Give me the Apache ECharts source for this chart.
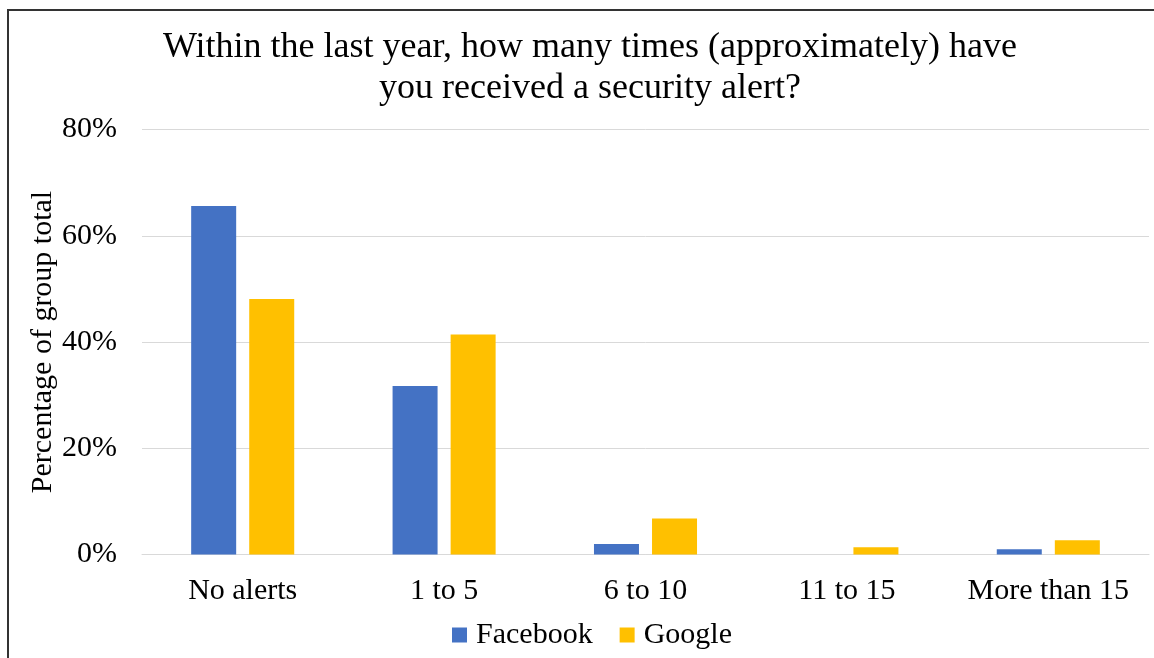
<!DOCTYPE html>
<html>
<head>
<meta charset="utf-8">
<script src="https://cdn.jsdelivr.net/npm/echarts@6/dist/echarts.min.js"></script>
<style>
html,body{margin:0;padding:0;background:#fff;}
#chart{width:1154px;height:658px;}
</style>
</head>
<body>
<div id="chart"></div>
<script>
var categories = ['No alerts', '1 to 5', '6 to 10', '11 to 15', 'More than 15'];
var facebook = [65.6, 31.7, 2.0, 0, 1.0];
var google = [48.1, 41.4, 6.8, 1.35, 2.7];
var seriesNames = ['Facebook', 'Google'];
var titleLines = ['Within the last year, how many times (approximately) have', 'you received a security alert?'];
var yAxisName = 'Percentage of group total';

var FONT = '"Liberation Serif", "Times New Roman", serif';
var chart = echarts.init(document.getElementById('chart'), null, {renderer: 'canvas'});
chart.setOption({
  backgroundColor: '#fff',
  animation: false,
  title: {
    text: titleLines.join('\n'),
    left: 585,
    top: 22,
    textAlign: 'center',
    textStyle: {fontFamily: FONT, fontSize: 36, fontWeight: 'normal', color: '#000', lineHeight: 41}
  },
  legend: {
    data: seriesNames,
    left: 447,
    top: 615,
    itemWidth: 15,
    itemHeight: 15,
    itemGap: 27,
    icon: 'rect',
    textStyle: {fontFamily: FONT, fontSize: 30, color: '#000', padding: [0, 0, 0, 4]}
  },
  grid: {left: 142, right: 5, top: 129.5, bottom: 103.5, containLabel: false},
  xAxis: {
    type: 'category',
    data: categories,
    axisLine: {show: true, lineStyle: {color: '#d9d9d9', width: 1}},
    axisTick: {show: false},
    axisLabel: {fontFamily: FONT, fontSize: 30, color: '#000', margin: 22, interval: 0}
  },
  yAxis: {
    type: 'value',
    min: 0,
    max: 80,
    interval: 20,
    name: yAxisName,
    nameLocation: 'middle',
    nameGap: 84,
    nameMoveOverlap: false,
    nameTextStyle: {fontFamily: FONT, fontSize: 30, color: '#000'},
    axisLine: {show: false},
    axisTick: {show: false},
    axisLabel: {fontFamily: FONT, fontSize: 30, color: '#000', margin: 25, formatter: '{value}%'},
    splitLine: {lineStyle: {color: '#d9d9d9', width: 1}}
  },
  series: [
    {name: seriesNames[0], type: 'bar', data: facebook, barWidth: 45, barGap: '29%', itemStyle: {color: '#4472C4'}},
    {name: seriesNames[1], type: 'bar', data: google, barWidth: 45, barGap: '29%', itemStyle: {color: '#FFC000'}}
  ],
  graphic: [
    {type: 'polyline', shape: {points: [[8, 658], [8, 10], [1154, 10]]}, style: {stroke: '#333', lineWidth: 2, fill: null}, silent: true}
  ]
});
</script>
</body>
</html>
